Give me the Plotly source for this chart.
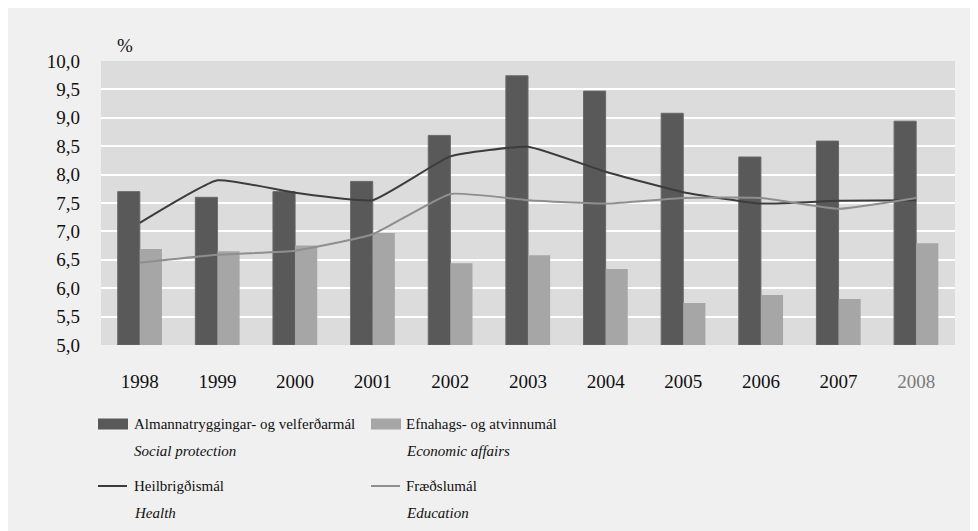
import plotly.graph_objects as go

years = ["1998", "1999", "2000", "2001", "2002", "2003", "2004", "2005", "2006", "2007", "2008"]
social = [7.70, 7.60, 7.70, 7.88, 8.69, 9.74, 9.47, 9.08, 8.31, 8.59, 8.94]
economic = [6.69, 6.65, 6.75, 6.97, 6.44, 6.58, 6.34, 5.74, 5.88, 5.81, 6.79]
health = [7.15, 7.90, 7.68, 7.55, 8.32, 8.49, 8.05, 7.69, 7.49, 7.54, 7.55]
education = [6.45, 6.59, 6.66, 6.95, 7.66, 7.55, 7.49, 7.59, 7.59, 7.40, 7.59]

names_is = ["Almannatryggingar- og velferðarmál", "Efnahags- og atvinnumál", "Heilbrigðismál", "Fræðslumál"]
names_en = ["Social protection", "Economic affairs", "Health", "Education"]
colors = ["#595959", "#a6a6a6", "#3c3c3c", "#8e8e8e"]

year_labels = years[:-1] + ['<span style="color:#7a7a7a">2008</span>']

font = "Liberation Serif, Times New Roman, serif"

# plot area in figure pixels (page has an 8px body margin)
L, T, W, H = 93, 53, 854, 284


def px(x):
    return (x - L) / W


def py(y):
    return (T + H - y) / H


fig = go.Figure()
fig.add_trace(go.Bar(x=years, y=[v - 5 for v in social], base=5, name=names_is[0],
                     marker=dict(color=colors[0], line=dict(color="#6a6a6a", width=1))))
fig.add_trace(go.Bar(x=years, y=[v - 5 for v in economic], base=5, name=names_is[1],
                     marker=dict(color=colors[1], line=dict(width=0))))
fig.add_trace(go.Scatter(x=years, y=health, mode="lines", line_shape="spline", name=names_is[2],
                         line=dict(color=colors[2], width=2, smoothing=0.4)))
fig.add_trace(go.Scatter(x=years, y=education, mode="lines", line_shape="spline", name=names_is[3],
                         line=dict(color=colors[3], width=2, smoothing=0.4)))

# legend drawn by hand: 2 columns, 2 rows, two text lines per entry
shapes = []
annotations = [dict(text="%", xref="paper", yref="paper", x=px(117), y=py(37),
                    xanchor="center", yanchor="middle", showarrow=False,
                    font=dict(size=19))]
cols = [(90, 124), (363, 396)]
rows = [416, 478]
for i in range(4):
    sx, tx = cols[i % 2]
    ry = rows[i // 2]
    if i < 2:
        shapes.append(dict(type="rect", xref="paper", yref="paper",
                           x0=px(sx), x1=px(sx + 30), y0=py(ry - 5.5), y1=py(ry + 5.5),
                           fillcolor=colors[i], line=dict(width=0)))
    else:
        shapes.append(dict(type="line", xref="paper", yref="paper",
                           x0=px(sx), x1=px(sx + 29), y0=py(ry), y1=py(ry),
                           line=dict(color=colors[i], width=2)))
    annotations.append(dict(text=names_is[i], xref="paper", yref="paper",
                            x=px(tx), y=py(ry), xanchor="left", yanchor="middle",
                            showarrow=False, font=dict(size=15)))
    annotations.append(dict(text="<i>" + names_en[i] + "</i>", xref="paper", yref="paper",
                            x=px(tx), y=py(ry + 27), xanchor="left", yanchor="middle",
                            showarrow=False, font=dict(size=15)))

fig.update_layout(
    width=978, height=531,
    margin=dict(l=L, r=978 - L - W, t=T, b=531 - T - H),
    paper_bgcolor="#f0f0f0", plot_bgcolor="#dcdcdc",
    font=dict(family=font, size=17, color="#111111"),
    separators=", ",
    barmode="group", bargap=0.43, bargroupgap=0,
    showlegend=False,
    shapes=shapes,
    annotations=annotations,
)
fig.update_xaxes(tickvals=years, ticktext=year_labels, showgrid=False, ticks="",
                 ticklabelstandoff=23, showline=False, zeroline=False,
                 tickfont=dict(size=19))
fig.update_yaxes(range=[5, 10], dtick=0.5, tickformat=".1f", showgrid=True,
                 gridcolor="#ffffff", gridwidth=2, zeroline=False, ticks="",
                 ticklabelstandoff=20, tickfont=dict(size=19))

fig.write_html("out.html")
